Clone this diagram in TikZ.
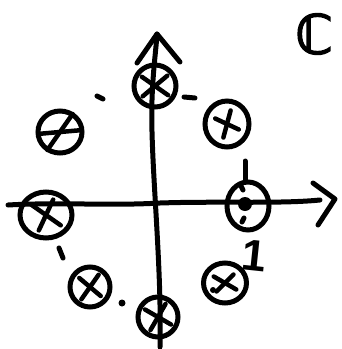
\documentclass[tikz,border=0pt]{standalone}
\usepackage{fontspec}
\newfontfamily\handfont{Liberation Sans}
\newfontfamily\cfont[FakeBold=3]{DejaVu Sans}
\usetikzlibrary{shapes.geometric}
\tikzset{
  ink/.style={line width=5pt, line cap=round, line join=round, black},
  root/.style={draw, line width=5pt, ellipse, inner sep=0pt},
  crossmark/.style={line width=4.5pt, line cap=round, black},
}
\newcommand{\xstroke}[3]{\draw[crossmark] ([shift={(#2:#3)}]#1.center) -- ([shift={(#2+180:#3)}]#1.center);}
\begin{document}
\begin{tikzpicture}[x=1pt,y=-1pt]
\useasboundingbox (0,0) rectangle (342,349);
% axes
\coordinate (xl) at (8,205);
\coordinate (o) at (160,203);
\coordinate (xr) at (320,200);
\coordinate (xtip) at (335,199);
\coordinate (yb) at (160,347);
\coordinate (yt) at (157,34);
\coordinate (ar1) at (313,183);
\coordinate (ar2) at (318,225);
\coordinate (at1) at (137,63);
\coordinate (at2) at (180,62);
\draw[ink] (xl) .. controls (60,202) and (110,206) .. (o) .. controls (220,201) and (280,204) .. (xr);
\draw[ink] (yb) .. controls (162,260) and (150,160) .. (152,100) .. controls (153,70) and (156,50) .. (yt);
\draw[ink] (ar1) -- (xtip) -- (ar2);
\draw[ink] (at1) -- (yt) -- (at2);
% roots
\node[root, minimum width=42pt, minimum height=42pt] (r2) at (155,86) {};
\node[root, minimum width=44pt, minimum height=46pt] (r1) at (227,124) {};
\node[root, minimum width=42pt, minimum height=48pt] (r0) at (248,206) {};
\node[root, minimum width=43pt, minimum height=40pt] (r7) at (225,283) {};
\node[root, minimum width=40pt, minimum height=40pt] (r6) at (158,317) {};
\node[root, minimum width=40pt, minimum height=40pt] (r5) at (90,287) {};
\node[root, minimum width=52pt, minimum height=46pt] (r4) at (46,215) {};
\node[root, minimum width=44pt, minimum height=42pt] (r3) at (60,132) {};
% crosses
\xstroke{r2}{35}{16}\xstroke{r2}{-40}{16}
\xstroke{r1}{25}{13}\xstroke{r1}{-75}{14}
\xstroke{r7}{30}{13}\xstroke{r7}{-45}{12}
\xstroke{r6}{30}{15}\xstroke{r6}{-60}{15}
\xstroke{r5}{40}{14}\xstroke{r5}{-55}{15}
\xstroke{r4}{35}{18}\xstroke{r4}{-65}{17}
\xstroke{r3}{-5}{19}\xstroke{r3}{-55}{22}
\node[circle, fill=black, minimum size=14pt, inner sep=0pt] (d0) at (245,204) {};
\node[circle, fill=black, minimum size=6pt, inner sep=0pt] (d7) at (213,290) {};
% dashes of the unit circle
\coordinate (c1a) at (97,96); \coordinate (c1b) at (103,99);
\coordinate (c2a) at (184,97); \coordinate (c2b) at (195,98);
\coordinate (c3a) at (245,161); \coordinate (c3b) at (245,180);
\coordinate (c4a) at (59,248); \coordinate (c4b) at (63,258);
\coordinate (c5a) at (243,190); \coordinate (c5b) at (241,186);
\coordinate (c6a) at (244,218); \coordinate (c6b) at (242,222);
\draw[ink] (c1a) -- (c1b);
\draw[ink] (c2a) -- (c2b);
\draw[ink] (c3a) -- (c3b);
\draw[ink] (c4a) -- (c4b);
\draw[ink] (c5a) -- (c5b);
\draw[ink] (c6a) -- (c6b);
\node[circle, fill=black, minimum size=7pt, inner sep=0pt] (dd) at (122,303) {};
% labels
\node[font=\handfont\bfseries\fontsize{44}{44}\selectfont, rotate=-6, inner sep=0pt] (one) at (254,256) {1};
\node[font=\cfont\fontsize{54}{54}\selectfont, inner sep=0pt] (cc) at (314,34) {ℂ};
\end{tikzpicture}
\end{document}
